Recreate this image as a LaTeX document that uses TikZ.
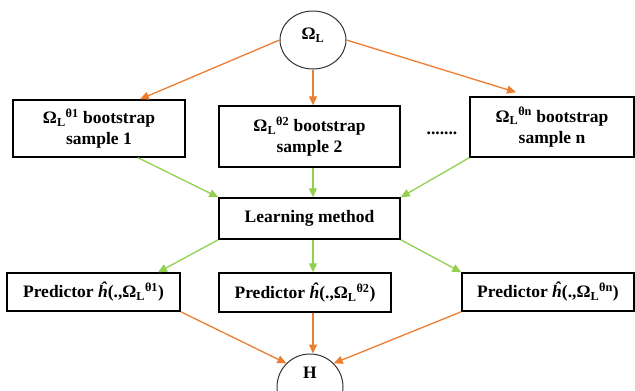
\documentclass[tikz,border=0pt]{standalone}
\usepackage{fontspec}
\setmainfont{Liberation Serif}
\usetikzlibrary{shapes.geometric,arrows.meta}
\definecolor{arrorange}{RGB}{237,125,49}
\definecolor{arrgreen}{RGB}{146,208,80}
\begin{document}
\begin{tikzpicture}[x=1pt,y=-1pt,
  every node/.style={font=\fontsize{17.5}{21}\selectfont\bfseries, align=center, inner sep=0pt},
  box/.style={draw=black, line width=1.5pt, rectangle},
  oval/.style={draw=black!80, line width=1pt, ellipse, minimum width=66pt, minimum height=62pt},
  oarr/.style={draw=arrorange, line width=1.3pt, -{Triangle[length=9pt,width=8pt]}},
  garr/.style={draw=arrgreen, line width=1.3pt, -{Triangle[length=9pt,width=8pt]}}]
\useasboundingbox (0,0) rectangle (635,391);
\node[oval, minimum height=58pt] (OL) at (313,40) {};
\node at ([yshift=5pt]OL.center) {Ω\textsubscript{L}};
\node[box, minimum width=172pt, minimum height=57pt] (b1) at (99,128.5) {Ω\textsubscript{L}\textsuperscript{θ1} bootstrap\\sample 1};
\node[box, minimum width=181pt, minimum height=61pt] (b2) at (309.5,136.5) {Ω\textsubscript{L}\textsuperscript{θ2} bootstrap\\sample 2};
\node[box, minimum width=164pt, minimum height=60pt] (bn) at (552,127) {Ω\textsubscript{L}\textsuperscript{θn} bootstrap\\sample n};
\node (dots) at (442,133) {.......};
\node[box, minimum width=181pt, minimum height=41pt] (LM) at (309.5,218.5) {Learning method};
\node[box, minimum width=173pt, minimum height=38pt] (p1) at (93.5,292) {Predictor \textit{ĥ}(.,Ω\textsubscript{L}\textsuperscript{θ1})};
\node[box, minimum width=172pt, minimum height=39pt] (p2) at (305,292.5) {Predictor \textit{ĥ}(.,Ω\textsubscript{L}\textsuperscript{θ2})};
\node[box, minimum width=172pt, minimum height=38pt] (pn) at (548,292) {Predictor \textit{ĥ}(.,Ω\textsubscript{L}\textsuperscript{θn})};
\node[oval, minimum height=66pt] (H) at (310,387) {};
\node at (310,373) {H};
% orange from top
\draw[oarr] (OL.west) -- ([xshift=41pt]b1.north);
\draw[oarr] (OL.south) -- (OL.south |- b2.north);
\draw[oarr] (OL.east) -- ([xshift=-36pt,yshift=4pt]bn.north);
% green to learning
\draw[garr] ([xshift=39pt]b1.south) -- (LM.north west);
\draw[garr] (b2.south -| OL.south) -- (LM.north -| OL.south);
\draw[garr] (bn.south west) -- (LM.north east);
% green from learning
\draw[garr] (LM.south west) -- ([xshift=64.5pt]p1.north);
\draw[garr] (LM.south -| OL.south) -- (p2.north -| OL.south);
\draw[garr] (LM.south east) -- (pn.north west);
% orange to H
\draw[oarr] (p1.south east) -- (H.135);
\draw[oarr] (p2.south -| OL.south) -- (H.north -| OL.south);
\draw[oarr] (pn.south west) -- (H.45);
\end{tikzpicture}
\end{document}
